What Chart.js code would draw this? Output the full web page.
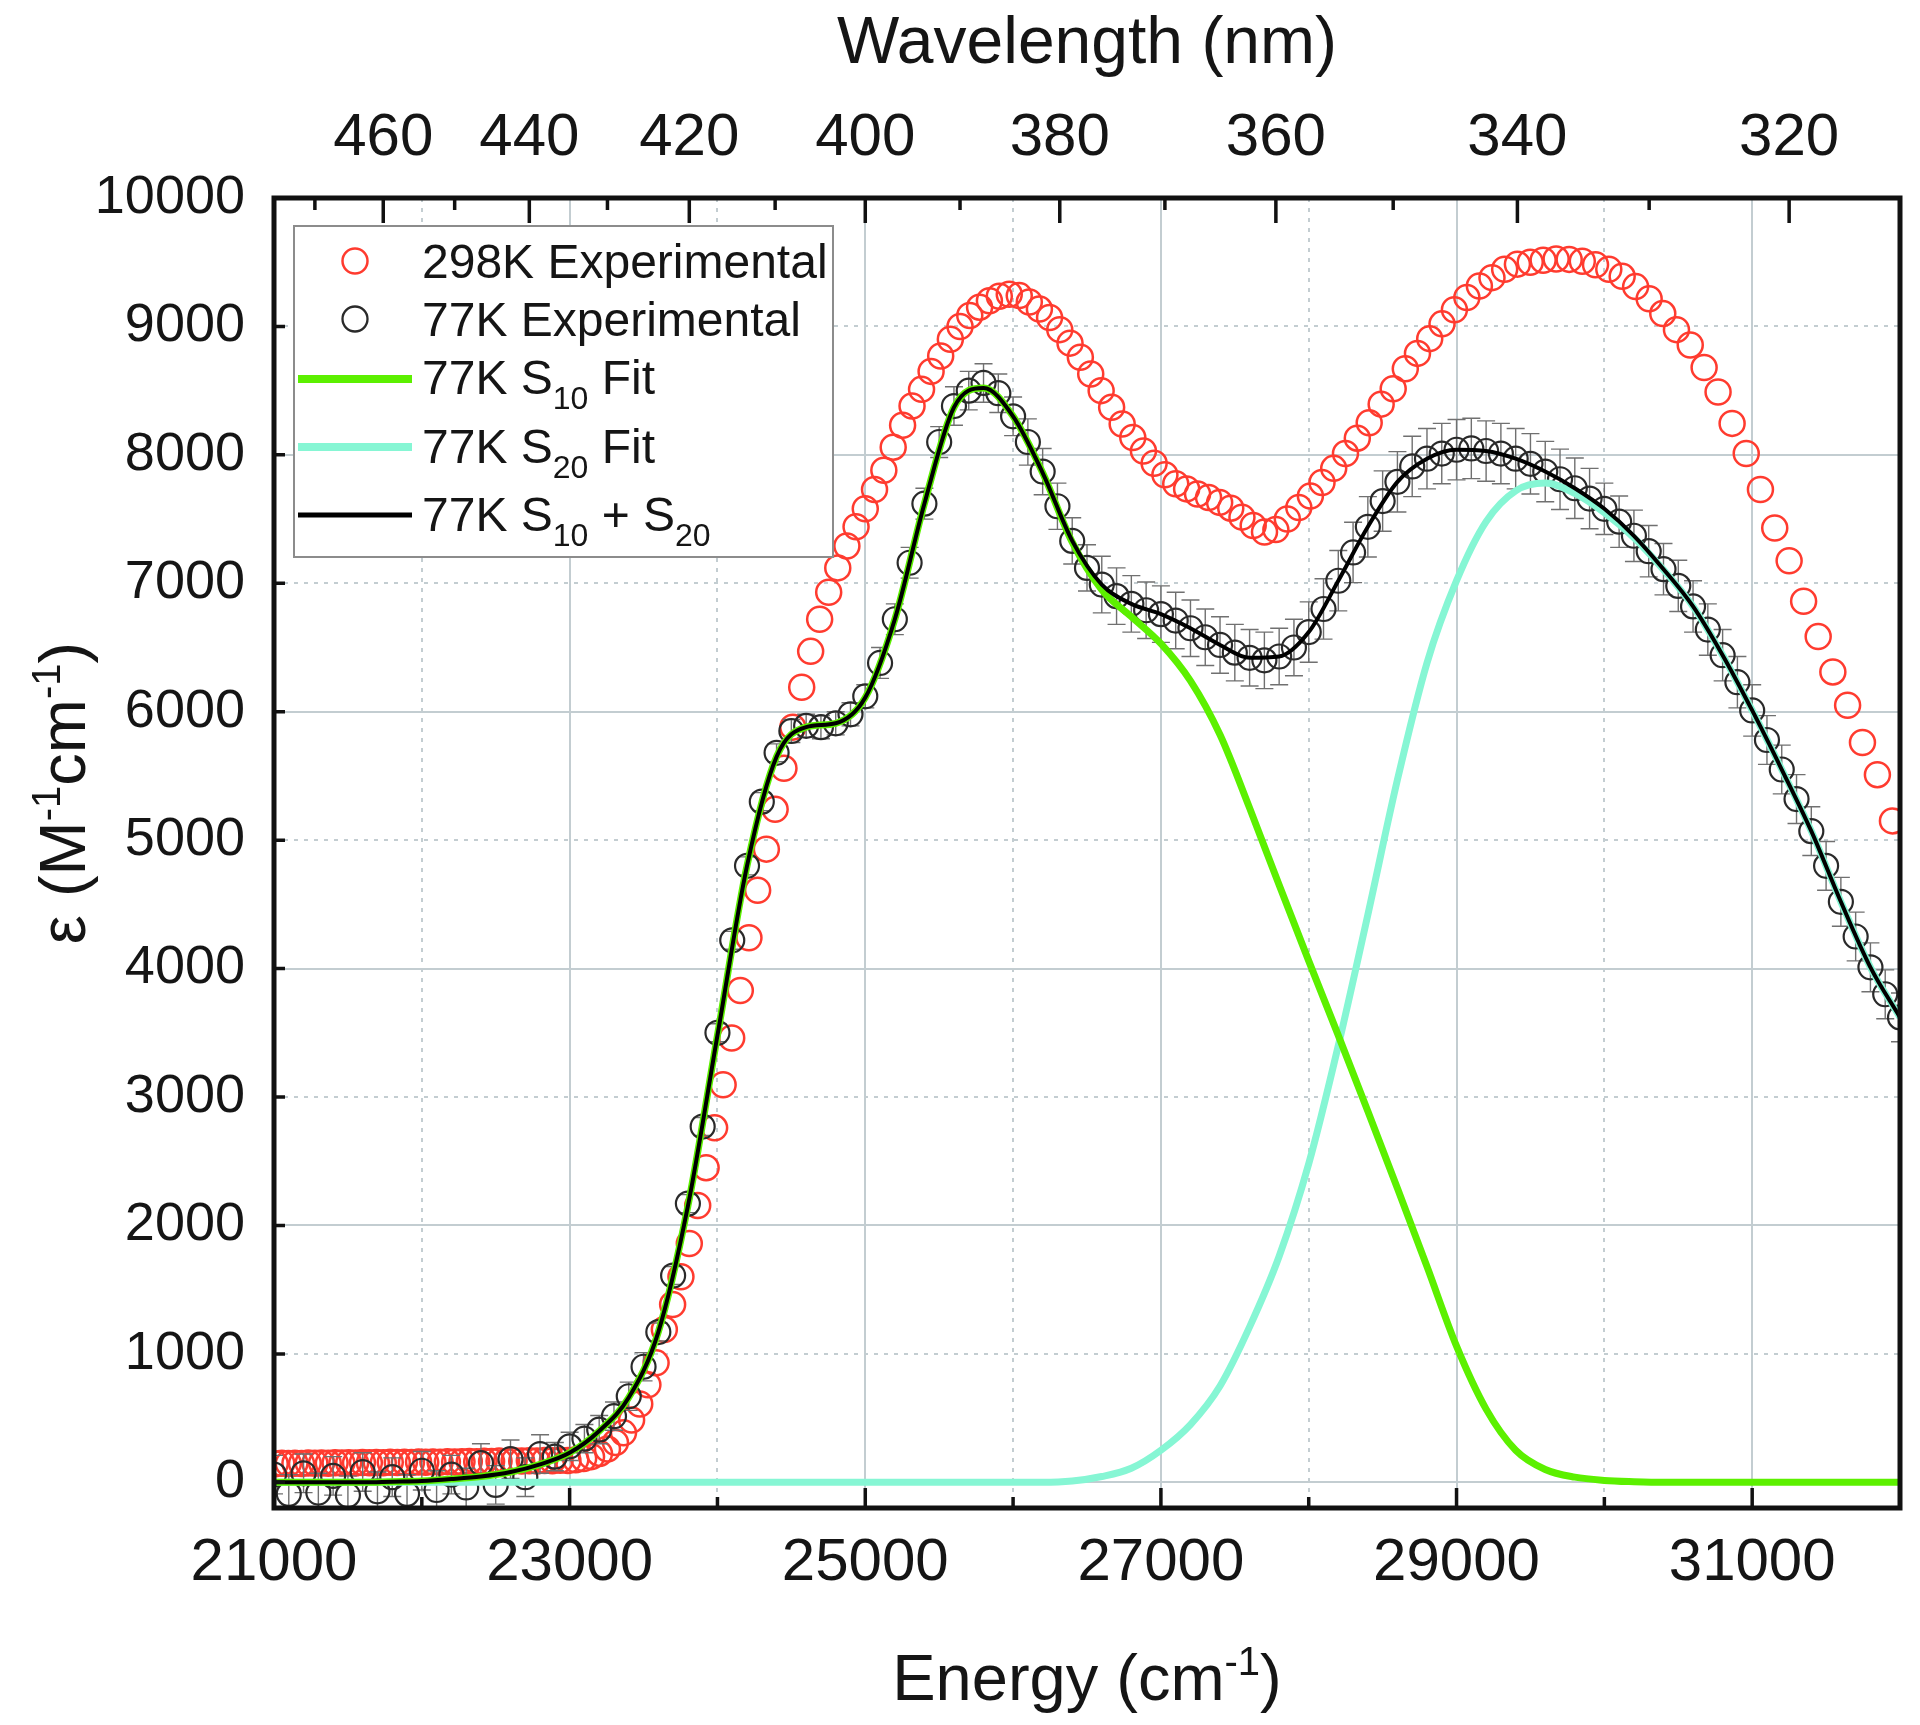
<!DOCTYPE html>
<html>
<head>
<meta charset="utf-8">
<script src="https://cdn.jsdelivr.net/npm/chart.js@4/dist/chart.umd.min.js"></script>
<style>html,body{margin:0;padding:0;background:#fff}canvas{display:block}</style>
</head>
<body>
<canvas id="c" width="1920" height="1725"></canvas>
<script>
// ---------------- DATA ----------------
// 298 K experimental: wavelength (nm) and epsilon (M^-1 cm^-1)
const wl298 = [313,314,315,316,317,318,319,320,321,322,323,324,325,326,327,328,329,330,331,332,333,334,335,336,337,338,339,340,
341,342,343,344,345,346,347,348,349,350,351,352,353,354,355,356,357,358,359,360,361,362,363,364,365,366,367,368,369,370,
371,372,373,374,375,376,377,378,379,380,381,382,383,384,385,386,387,388,389,390,391,392,393,394,395,396,397,398,399,400,
401,402,403,404,405,406,407,408,409,410,411,412,413,414,415,416,417,418,419,420,421,422,423,424,425,426,427,428,429,430,
431,432,433,434,435,436,437,438,439,440,441,442,443,444,445,446,447,448,449,450,451,452,453,454,455,456,457,458,459,460,
461,462,463,464,465,466,467,468,469,470,471,472,473,474,475,476];
const eps298 = [5150,5510,5760,6050,6310,6585,6860,7175,7430,7730,8010,8245,8490,8680,8855,8975,9100,9215,9310,9390,9445,9480,9508,9522,9525,9515,9500,9485,
9445,9380,9315,9225,9130,9020,8905,8790,8670,8515,8395,8250,8130,8010,7895,7785,7680,7590,7500,7418,7400,7450,7515,7585,7630,7668,7695,7735,7775,7845,
7935,8030,8135,8240,8370,8500,8630,8760,8870,8975,9070,9135,9190,9240,9250,9235,9200,9150,9085,9000,8900,8770,8650,8510,8380,8230,8060,7880,7730,7580,
7440,7290,7120,6930,6720,6470,6190,5880,5560,5240,4930,4610,4240,3830,3460,3095,2760,2450,2155,1860,1600,1385,1190,930,760,610,485,385,310,260,
225,200,185,175,170,172,168,170,166,168,165,167,163,165,162,164,160,163,160,158,161,157,159,156,158,155,157,154,156,153,
155,152,154,151,153,150,152,149,151,148,150,147,149,146,148,145];

// 77 K experimental: energy (cm^-1), epsilon and error
const energy77 = [21000,21100,21200,21300,21400,21500,21600,21700,21800,21900,22000,22100,22200,22300,22400,22500,22600,22700,22800,22900,
23000,23100,23200,23300,23400,23500,23600,23700,23800,23900,24000,24100,24200,24300,24400,24500,24600,24700,24800,24900,
25000,25100,25200,25300,25400,25500,25600,25700,25800,25900,26000,26100,26200,26300,26400,26500,26600,26700,26800,26900,
27000,27100,27200,27300,27400,27500,27600,27700,27800,27900,28000,28100,28200,28300,28400,28500,28600,28700,28800,28900,
29000,29100,29200,29300,29400,29500,29600,29700,29800,29900,30000,30100,30200,30300,30400,30500,30600,30700,30800,30900,
31000,31100,31200,31300,31400,31500,31600,31700,31800,31900,32000];
const eps77 = [60,-90,70,-80,50,-100,80,-70,40,-90,90,-60,60,-40,150,-20,180,40,220,200,
280,340,410,515,670,900,1170,1610,2170,2770,3500,4220,4800,5300,5680,5850,5890,5880,5910,5980,
6120,6380,6720,7160,7620,8100,8380,8500,8560,8480,8300,8100,7870,7600,7330,7120,6990,6900,6840,6790,
6760,6710,6650,6580,6520,6460,6420,6400,6430,6500,6620,6800,7020,7240,7440,7640,7790,7910,7970,8010,
8040,8050,8030,8010,7970,7930,7870,7810,7740,7660,7580,7480,7370,7250,7110,6980,6820,6640,6440,6230,
6010,5780,5550,5320,5070,4800,4520,4250,4010,3800,3620];
const err77 = [150,150,150,150,150,150,150,150,150,150,150,150,150,150,150,150,150,150,150,110,
110,110,110,110,110,110,70,70,70,70,70,70,70,70,70,90,90,90,90,90,
90,120,120,120,120,120,150,150,150,150,150,180,180,180,180,180,220,220,220,220,
220,220,220,220,220,220,220,220,220,220,235,235,235,235,235,235,235,235,235,235,
235,235,235,235,235,235,235,235,235,235,200,200,200,200,200,200,200,200,200,200,
200,190,190,190,190,190,190,190,190,190,190];

// 77 K fits on an energy grid
const energyFit = [21000,21200,21400,21600,21800,22000,22200,22400,22600,22800,23000,23200,23400,23600,23800,24000,24200,24400,24600,24800,
25000,25200,25400,25600,25800,26000,26200,26400,26600,26800,27000,27200,27400,27600,27800,28000,28200,28400,28600,28800,
29000,29200,29400,29600,29800,30000,30200,30400,30600,30800,31000,31200,31400,31600,31800,32000];
const fitS10 = [0,0,0,0,5,10,25,45,80,140,230,400,660,1170,2150,3480,4800,5650,5880,5910,
6110,6720,7620,8370,8520,8300,7860,7320,6950,6740,6530,6240,5820,5250,4650,4060,3480,2890,2290,1680,
1060,570,250,100,40,15,5,0,0,0,0,0,0,0,0,0];
const fitS20 = [0,0,0,0,0,0,0,0,0,0,0,0,0,0,0,0,0,0,0,0,
0,0,0,0,0,0,0,10,45,110,250,450,750,1210,1760,2480,3400,4420,5470,6380,
7020,7480,7720,7780,7700,7550,7355,7105,6820,6440,6010,5550,5070,4520,4010,3620];
const fitSum = [0,0,0,0,5,10,25,45,80,140,230,400,660,1170,2150,3480,4800,5650,5880,5910,
6110,6720,7620,8370,8520,8300,7860,7330,6990,6840,6760,6650,6520,6420,6430,6620,7020,7440,7790,7970,
8040,8030,7970,7870,7740,7580,7370,7110,6820,6440,6010,5550,5070,4520,4010,3620];

// ticks
const energyTicks = [21000,22000,23000,24000,25000,26000,27000,28000,29000,30000,31000];
const energyLabelTicks = [21000,23000,25000,27000,29000,31000];
const epsTicks = [0,1000,2000,3000,4000,5000,6000,7000,8000,9000,10000];
const epsSolidGrid = [0,2000,4000,6000,8000,10000];
const wlMajorTicks = [460,440,420,400,380,360,340,320];
const wlMinorTicks = [470,450,430,410,390,370,350,330];

// ---------------- STYLE ----------------
const FONT = "'Liberation Sans', Arial, Helvetica, sans-serif";
const COL = { red:'#ff3b2f', black:'#2a2a2a', green:'#5cf000', cyan:'#86f6d4', grid:'#c3cdd1', frame:'#111111', text:'#151515', err:'#707070' };

const red298 = wl298.map((w, i) => ({ x: 1e7 / w, y: eps298[i] }));
const exp77 = energy77.map((e, i) => ({ x: e, y: eps77[i] }));
const s10 = energyFit.map((e, i) => ({ x: e, y: fitS10[i] }));
const s20 = energyFit.map((e, i) => ({ x: e, y: fitS20[i] }));
const sum = energyFit.map((e, i) => ({ x: e, y: fitSum[i] }));

function drawRich(ctx, parts, x, baseline, base, align) {
  const fnt = k => (k === 'n' ? base : Math.round(base * (k === 'sub' ? 0.66 : 0.62))) + 'px ' + FONT;
  let w = 0;
  parts.forEach(p => { ctx.font = fnt(p.k); w += ctx.measureText(p.t).width; });
  let cx = align === 'center' ? x - w / 2 : x;
  ctx.textAlign = 'left';
  ctx.textBaseline = 'alphabetic';
  parts.forEach(p => {
    ctx.font = fnt(p.k);
    const dy = p.k === 'sup' ? -base * 0.38 : (p.k === 'sub' ? base * 0.3 : 0);
    ctx.fillText(p.t, cx, baseline + dy);
    cx += ctx.measureText(p.t).width;
  });
}

const deco = {
  id: 'deco',
  beforeDatasetDraw(chart, args) {
    if (args.index !== 1) return;
    const ctx = chart.ctx, xs = chart.scales.x, ys = chart.scales.y, a = chart.chartArea;
    ctx.save();
    ctx.beginPath(); ctx.rect(a.left, a.top, a.right - a.left, a.bottom - a.top); ctx.clip();
    ctx.strokeStyle = COL.err; ctx.lineWidth = 1.4;
    energy77.forEach((e, i) => {
      const px = xs.getPixelForValue(e);
      const y1 = ys.getPixelForValue(eps77[i] + err77[i]);
      const y2 = ys.getPixelForValue(eps77[i] - err77[i]);
      ctx.beginPath();
      ctx.moveTo(px, y1); ctx.lineTo(px, y2);
      ctx.moveTo(px - 9, y1); ctx.lineTo(px + 9, y1);
      ctx.moveTo(px - 9, y2); ctx.lineTo(px + 9, y2);
      ctx.stroke();
    });
    ctx.restore();
  },
  afterDraw(chart) {
    const ctx = chart.ctx, a = chart.chartArea;
    const xs = chart.scales.x, ys = chart.scales.y;
    ctx.save();
    // inward ticks
    ctx.strokeStyle = COL.frame; ctx.lineWidth = 3.5;
    ctx.beginPath();
    energyTicks.forEach(v => {
      const px = xs.getPixelForValue(v);
      const len = energyLabelTicks.includes(v) ? 20 : 11;
      ctx.moveTo(px, a.bottom); ctx.lineTo(px, a.bottom - len);
    });
    wlMajorTicks.forEach(w => { const px = xs.getPixelForValue(1e7 / w); ctx.moveTo(px, a.top); ctx.lineTo(px, a.top + 25); });
    wlMinorTicks.forEach(w => { const px = xs.getPixelForValue(1e7 / w); ctx.moveTo(px, a.top); ctx.lineTo(px, a.top + 12); });
    epsTicks.forEach(v => { const py = ys.getPixelForValue(v); ctx.moveTo(a.left, py); ctx.lineTo(a.left + 11, py); });
    ctx.stroke();
    // frame
    ctx.lineWidth = 5;
    ctx.strokeRect(a.left, a.top, a.right - a.left, a.bottom - a.top);

    // titles
    ctx.fillStyle = COL.text;
    drawRich(ctx, [{t:'Wavelength (nm)', k:'n'}], (a.left + a.right) / 2, 63, 66, 'center');
    drawRich(ctx, [{t:'Energy (cm', k:'n'}, {t:'-1', k:'sup'}, {t:')', k:'n'}], (a.left + a.right) / 2, 1700, 65, 'center');
    ctx.save();
    ctx.translate(62, 793);
    ctx.rotate(-Math.PI / 2);
    drawRich(ctx, [{t:'\u03b5 (M', k:'n'}, {t:'-1', k:'sup'}, {t:'cm', k:'n'}, {t:'-1', k:'sup'}, {t:')', k:'n'}], 0, 23, 65, 'center');
    ctx.restore();

    // legend
    const L = { x: 294, y: 226, w: 539, h: 331 };
    ctx.fillStyle = '#ffffff';
    ctx.fillRect(L.x, L.y, L.w, L.h);
    ctx.strokeStyle = '#8c8c8c'; ctx.lineWidth = 2;
    ctx.strokeRect(L.x, L.y, L.w, L.h);
    const tx = 422, fs = 48, cap = fs * 0.358;
    ctx.strokeStyle = COL.red; ctx.lineWidth = 2.5;
    ctx.beginPath(); ctx.arc(355, 261, 12.5, 0, Math.PI * 2); ctx.stroke();
    ctx.strokeStyle = COL.black; ctx.lineWidth = 2.3;
    ctx.beginPath(); ctx.arc(355, 319, 12.5, 0, Math.PI * 2); ctx.stroke();
    ctx.lineCap = 'butt';
    ctx.strokeStyle = COL.green; ctx.lineWidth = 8;
    ctx.beginPath(); ctx.moveTo(298, 379); ctx.lineTo(412, 379); ctx.stroke();
    ctx.strokeStyle = COL.cyan; ctx.lineWidth = 8;
    ctx.beginPath(); ctx.moveTo(298, 447); ctx.lineTo(412, 447); ctx.stroke();
    ctx.strokeStyle = '#000'; ctx.lineWidth = 5;
    ctx.beginPath(); ctx.moveTo(298, 515); ctx.lineTo(412, 515); ctx.stroke();
    ctx.fillStyle = COL.text;
    drawRich(ctx, [{t:'298K Experimental', k:'n'}], tx, 261 + cap, fs, 'left');
    drawRich(ctx, [{t:'77K Experimental', k:'n'}], tx, 319 + cap, fs, 'left');
    drawRich(ctx, [{t:'77K S', k:'n'}, {t:'10', k:'sub'}, {t:' Fit', k:'n'}], tx, 377 + cap, fs, 'left');
    drawRich(ctx, [{t:'77K S', k:'n'}, {t:'20', k:'sub'}, {t:' Fit', k:'n'}], tx, 446 + cap, fs, 'left');
    drawRich(ctx, [{t:'77K S', k:'n'}, {t:'10', k:'sub'}, {t:' + S', k:'n'}, {t:'20', k:'sub'}], tx, 514 + cap, fs, 'left');
    ctx.restore();
  }
};

new Chart(document.getElementById('c'), {
  type: 'scatter',
  data: {
    datasets: [
      { label: '298K Experimental', data: red298, showLine: false, pointRadius: 12.5, pointHoverRadius: 12.5,
        pointBorderWidth: 2.5, pointBorderColor: COL.red, pointBackgroundColor: 'rgba(0,0,0,0)', order: 4, clip: 0 },
      { label: '77K Experimental', data: exp77, showLine: false, pointRadius: 12, pointHoverRadius: 12,
        pointBorderWidth: 2.2, pointBorderColor: COL.black, pointBackgroundColor: 'rgba(0,0,0,0)', order: 3, clip: 0 },
      { label: '77K S20 Fit', data: s20, showLine: true, borderColor: COL.cyan, borderWidth: 7, pointRadius: 0,
        cubicInterpolationMode: 'monotone', order: 2, clip: 0 },
      { label: '77K S10 Fit', data: s10, showLine: true, borderColor: COL.green, borderWidth: 7, pointRadius: 0,
        cubicInterpolationMode: 'monotone', order: 1, clip: 0 },
      { label: '77K S10 + S20', data: sum, showLine: true, borderColor: '#000000', borderWidth: 4, pointRadius: 0,
        cubicInterpolationMode: 'monotone', order: 0, clip: 0 }
    ]
  },
  options: {
    responsive: false,
    animation: false,
    events: [],
    layout: { padding: { left: 0, right: 20, top: 0, bottom: 0 } },
    plugins: { legend: { display: false }, tooltip: { enabled: false } },
    scales: {
      x: {
        type: 'linear', position: 'bottom', min: 21000, max: 32000,
        afterBuildTicks: s => { s.ticks = energyTicks.map(v => ({ value: v })); },
        afterFit: s => { s.height = 217; },
        ticks: { autoSkip: false, maxRotation: 0, minRotation: 0, padding: 19, color: COL.text,
          font: { family: FONT, size: 60 },
          callback: v => energyLabelTicks.includes(v) ? String(v) : '' },
        grid: { drawTicks: false, color: COL.grid, lineWidth: 2 },
        border: { display: false, dash: c => (c.tick && energyLabelTicks.includes(c.tick.value)) ? [] : [4, 6] }
      },
      xTop: {
        type: 'linear', position: 'top', min: 21000, max: 32000,
        afterBuildTicks: s => { s.ticks = wlMajorTicks.map(w => ({ value: 1e7 / w })); },
        afterFit: s => { s.height = 198; },
        ticks: { autoSkip: false, maxRotation: 0, minRotation: 0, padding: 24, color: COL.text,
          font: { family: FONT, size: 60 },
          callback: v => String(Math.round(1e7 / v)) },
        grid: { display: false, drawTicks: false },
        border: { display: false }
      },
      y: {
        type: 'linear', position: 'left', min: -200, max: 10000,
        afterBuildTicks: s => { s.ticks = epsTicks.map(v => ({ value: v })); },
        afterFit: s => { s.width = 274; },
        ticks: { autoSkip: false, padding: 29, color: COL.text, font: { family: FONT, size: 54 },
          callback: v => String(v) },
        grid: { drawTicks: false, color: COL.grid, lineWidth: 2 },
        border: { display: false, dash: c => (c.tick && epsSolidGrid.includes(c.tick.value)) ? [] : [4, 6] }
      }
    }
  },
  plugins: [deco]
});
</script>
</body>
</html>
